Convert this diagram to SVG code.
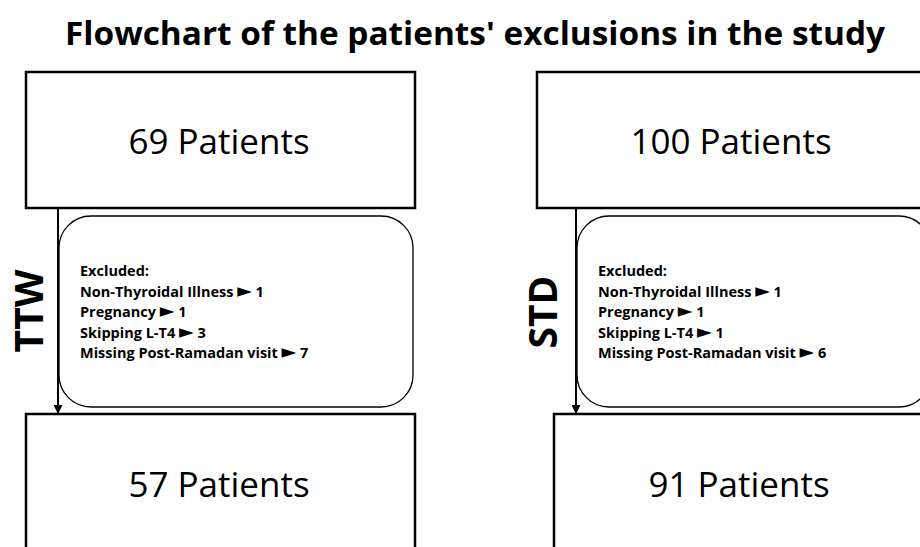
<svg xmlns="http://www.w3.org/2000/svg" width="920" height="547" viewBox="0 0 920 547">
<style>
.box{fill:#fff;stroke:#000;stroke-width:2.5}
.rbox{fill:#fff;stroke:#000;stroke-width:1.3}
.big{font-family:"Open Sans","Liberation Sans",sans-serif;font-size:35px;text-anchor:middle;fill:#000}
.ex{font-family:"Open Sans","Liberation Sans",sans-serif;font-size:14.5px;font-weight:bold;fill:#000}
.tri{font-family:"DejaVu Sans",sans-serif;font-size:19px;font-weight:normal}
.side{font-family:"Open Sans","Liberation Sans",sans-serif;font-size:39px;font-weight:bold;text-anchor:middle;fill:#000}
.title{font-family:"Open Sans","Liberation Sans",sans-serif;font-size:32px;font-weight:bold;text-anchor:middle;fill:#000}
.conn{stroke:#000;stroke-width:2;fill:none}
</style>
<defs>
<marker id="arr" viewBox="0 0 10 10" refX="10" refY="5" markerWidth="4.5" markerHeight="4.5" orient="auto" markerUnits="strokeWidth">
<path d="M0,0 L10,5 L0,10 Z" fill="#000"/>
</marker>
</defs>
<rect width="920" height="547" fill="#fff"/>
<text class="title" x="475" y="45" textLength="820" lengthAdjust="spacingAndGlyphs">Flowchart of the patients' exclusions in the study</text>

<g id="connectors">
<line class="conn" x1="58" y1="208" x2="58" y2="414" marker-end="url(#arr)"/>
<line class="conn" x1="576" y1="208" x2="576" y2="414" marker-end="url(#arr)"/>
</g>

<g id="ttw-start">
<rect class="box" x="26" y="72" width="389" height="136"/>
<text class="big" x="219" y="154">69 Patients</text>
</g>
<g id="ttw-excluded">
<rect class="rbox" x="59" y="216" width="354" height="191" rx="32" ry="32"/>
<text class="ex" x="80" y="276">Excluded:</text>
<text class="ex" x="80" y="297">Non-Thyroidal Illness <tspan class="tri">►</tspan> 1</text>
<text class="ex" x="80" y="317">Pregnancy <tspan class="tri">►</tspan> 1</text>
<text class="ex" x="80" y="338">Skipping L-T4 <tspan class="tri">►</tspan> 3</text>
<text class="ex" x="80" y="358">Missing Post-Ramadan visit <tspan class="tri">►</tspan> 7</text>
</g>
<g id="ttw-label">
<text class="side" transform="translate(43,311) rotate(-90)">TTW</text>
</g>
<g id="ttw-end">
<rect class="box" x="26" y="414" width="389" height="150"/>
<text class="big" x="219" y="497">57 Patients</text>
</g>

<g id="std-start">
<rect class="box" x="537" y="72" width="389" height="136"/>
<text class="big" x="731" y="154">100 Patients</text>
</g>
<g id="std-excluded">
<rect class="rbox" x="577" y="216" width="354" height="191" rx="32" ry="32"/>
<text class="ex" x="598" y="276">Excluded:</text>
<text class="ex" x="598" y="297">Non-Thyroidal Illness <tspan class="tri">►</tspan> 1</text>
<text class="ex" x="598" y="317">Pregnancy <tspan class="tri">►</tspan> 1</text>
<text class="ex" x="598" y="338">Skipping L-T4 <tspan class="tri">►</tspan> 1</text>
<text class="ex" x="598" y="358">Missing Post-Ramadan visit <tspan class="tri">►</tspan> 6</text>
</g>
<g id="std-label">
<text class="side" transform="translate(557,312) rotate(-90)">STD</text>
</g>
<g id="std-end">
<rect class="box" x="554" y="414" width="372" height="150"/>
<text class="big" x="739" y="497">91 Patients</text>
</g>
</svg>
